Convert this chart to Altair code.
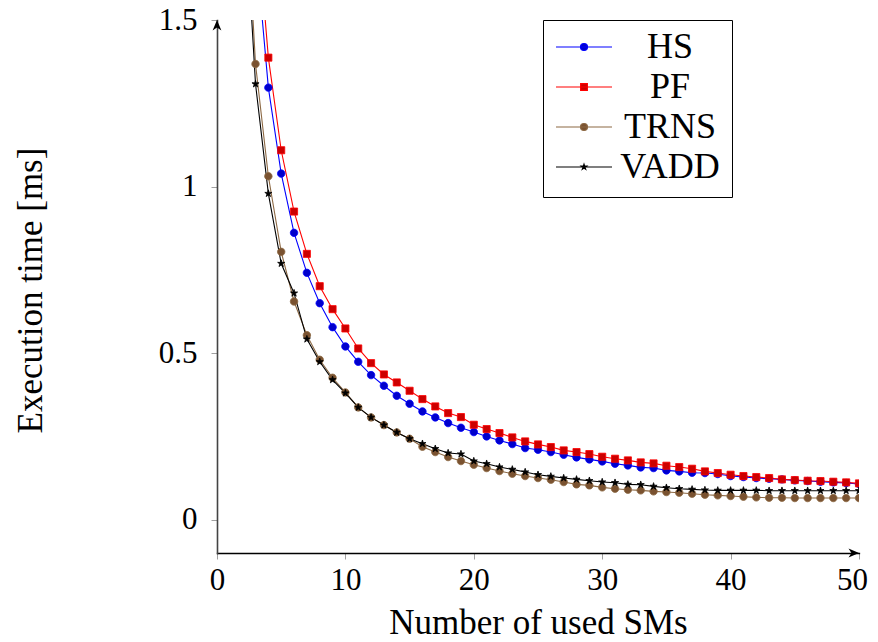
import altair as alt
import pandas as pd

SMS = list(range(1, 51))
HS = [5.2, 2.6, 1.73, 1.297, 1.039, 0.861, 0.741, 0.65, 0.578, 0.52,
      0.474, 0.434, 0.402, 0.372, 0.348, 0.325, 0.307, 0.29, 0.276, 0.263,
      0.25, 0.238, 0.227, 0.215, 0.21, 0.203, 0.195, 0.187, 0.181, 0.175,
      0.168, 0.163, 0.157, 0.155, 0.148, 0.145, 0.141, 0.14, 0.137, 0.131,
      0.128, 0.125, 0.123, 0.121, 0.118, 0.116, 0.114, 0.112, 0.11, 0.107]
PF = [5.55, 2.78, 1.85, 1.387, 1.109, 0.925, 0.798, 0.701, 0.632, 0.574,
      0.514, 0.47, 0.436, 0.412, 0.387, 0.362, 0.34, 0.32, 0.308, 0.285,
      0.272, 0.26, 0.247, 0.235, 0.226, 0.218, 0.208, 0.203, 0.197, 0.189,
      0.183, 0.178, 0.172, 0.169, 0.162, 0.158, 0.153, 0.145, 0.14, 0.135,
      0.131, 0.128, 0.125, 0.121, 0.119, 0.117, 0.116, 0.114, 0.112, 0.109]
TRNS = [4.1, 2.05, 1.368, 1.031, 0.804, 0.655, 0.554, 0.48, 0.426, 0.382,
        0.337, 0.307, 0.284, 0.262, 0.243, 0.219, 0.203, 0.188, 0.176, 0.165,
        0.155, 0.146, 0.138, 0.131, 0.125, 0.12, 0.113, 0.106, 0.103, 0.097,
        0.093, 0.09, 0.088, 0.085, 0.083, 0.081, 0.078, 0.075, 0.073, 0.071,
        0.069, 0.067, 0.066, 0.066, 0.065, 0.065, 0.065, 0.065, 0.065, 0.065]
VADD = [3.93, 1.96, 1.308, 0.979, 0.769, 0.68, 0.542, 0.474, 0.42, 0.38,
        0.337, 0.307, 0.284, 0.262, 0.243, 0.228, 0.213, 0.2, 0.197, 0.176,
        0.168, 0.158, 0.151, 0.143, 0.135, 0.13, 0.125, 0.121, 0.117, 0.113,
        0.111, 0.106, 0.105, 0.1, 0.096, 0.093, 0.091, 0.089, 0.088, 0.088,
        0.088, 0.088, 0.087, 0.087, 0.087, 0.087, 0.087, 0.087, 0.087, 0.087]

SERIES = ["HS", "PF", "TRNS", "VADD"]
LINE_COLORS = ["#0000ff", "#ff0000", "#8c6843", "#000000"]
MARK_FILLS = ["#0000cc", "#cc0000", "#7a5230", "#000000"]
X_TICKS = [0, 10, 20, 30, 40, 50]
Y_TICKS = [0, 0.5, 1, 1.5]
X_DOMAIN = [0, 50]
Y_DOMAIN = [-0.1, 1.5]

FONT = "Liberation Serif"

# marker shapes (unit paths)
CIRCLE = "M-1,0A1,1,0,1,0,1,0A1,1,0,1,0,-1,0Z"
SQUARE = "M-0.95,-0.95L0.95,-0.95L0.95,0.95L-0.95,0.95Z"
STAR = ("M0,-1L0.2245,-0.309L0.951,-0.309L0.363,0.118L0.588,0.809L0,0.382"
        "L-0.588,0.809L-0.363,0.118L-0.951,-0.309L-0.2245,-0.309Z")
MARKERS = [CIRCLE, SQUARE, CIRCLE, STAR]

# legend samples: line segment + small marker
L_CIRCLE = "M-1,0L1,0M-0.125,0A0.125,0.125,0,1,0,0.125,0A0.125,0.125,0,1,0,-0.125,0Z"
L_SQUARE = "M-1,0L1,0M-0.12,-0.12L0.12,-0.12L0.12,0.12L-0.12,0.12Z"
L_STAR = ("M-1,0L1,0M0,-0.1L0.0225,-0.031L0.095,-0.031L0.036,0.012L0.059,0.081"
          "L0,0.038L-0.059,0.081L-0.036,0.012L-0.095,-0.031L-0.0225,-0.031Z")
LEGEND_SHAPES = [L_CIRCLE, L_SQUARE, L_CIRCLE, L_STAR]

rows = []
for name, vals in zip(SERIES, [HS, PF, TRNS, VADD]):
    for s, v in zip(SMS, vals):
        rows.append({"series": name, "sms": s, "time": v})
df = pd.DataFrame(rows)

x_enc = alt.X(
    "sms:Q",
    scale=alt.Scale(domain=X_DOMAIN, nice=False, zero=False),
    axis=alt.Axis(
        values=X_TICKS, grid=False, domainColor="black", domainWidth=1.3,
        tickColor="#a0a0a0", tickSize=6, tickWidth=1,
        labelFont=FONT, labelFontSize=31, labelColor="black", labelPadding=6,
        labelFlush=False,
        labelOffset={"expr": "datum.value == 50 ? -7 : 0"},
        title="Number of used SMs", titleFont=FONT, titleFontSize=35,
        titleFontWeight="normal", titleColor="black",
        titleY=69, titleBaseline="middle",
    ),
)
y_enc = alt.Y(
    "time:Q",
    scale=alt.Scale(domain=Y_DOMAIN, nice=False, zero=False),
    axis=alt.Axis(
        values=Y_TICKS, grid=False, format="~g", domainColor="#444444",
        domainWidth=1.6, tickColor="#a0a0a0", tickSize=6, tickWidth=1,
        labelFont=FONT, labelFontSize=31, labelColor="black", labelPadding=14,
        labelFlush=False,
        title="Execution time [ms]", titleFont=FONT, titleFontSize=35,
        titleFontWeight="normal", titleColor="black",
        titleX=-187, titleY=270, titleAngle=270, titleAlign="center",
        titleBaseline="middle",
    ),
)

base = alt.Chart(df)

lines = base.mark_line(strokeWidth=1.1, clip=True).encode(
    x=x_enc, y=y_enc,
    color=alt.Color("series:N", scale=alt.Scale(domain=SERIES, range=LINE_COLORS), legend=None),
    detail="series:N",
    order="sms:Q",
)

points = base.mark_point(filled=True, opacity=1, size=56, strokeWidth=0.8, clip=True).encode(
    x="sms:Q", y="time:Q",
    fill=alt.Fill("series:N", scale=alt.Scale(domain=SERIES, range=MARK_FILLS), legend=None),
    stroke=alt.Stroke("series:N", scale=alt.Scale(domain=SERIES, range=LINE_COLORS), legend=None),
    shape=alt.Shape("series:N", scale=alt.Scale(domain=SERIES, range=MARKERS), legend=None),
)

leg = alt.Legend(
    orient="none", legendX=326, legendY=0, title=None,
    strokeColor="black", fillColor="white", padding=12, cornerRadius=0,
    symbolSize=3136, symbolStrokeWidth=1.2,
    labelFont=FONT, labelFontSize=36, labelColor="black",
    labelAlign="center", labelOffset=57, clipHeight=30, rowPadding=4,
)

legend_layer = base.transform_filter("false").mark_point(filled=True, opacity=1).encode(
    fill=alt.Fill("series:N", scale=alt.Scale(domain=SERIES, range=MARK_FILLS), legend=leg),
    stroke=alt.Stroke("series:N", scale=alt.Scale(domain=SERIES, range=LINE_COLORS), legend=leg),
    shape=alt.Shape("series:N", scale=alt.Scale(domain=SERIES, range=LEGEND_SHAPES), legend=leg),
)

# axis arrowheads at the ends of the axis domains
ARROW_RIGHT = "M0,0L-1,-0.42L-0.72,0L-1,0.42Z"
ARROW_UP = "M0,0L-0.42,1L0,0.72L0.42,1Z"
arrows_df = pd.DataFrame({
    "sms": [X_DOMAIN[1], X_DOMAIN[0]],
    "time": [Y_DOMAIN[0], Y_DOMAIN[1]],
    "kind": ["x", "y"],
})
arrows = alt.Chart(arrows_df).mark_point(filled=True, opacity=1, size=440, clip=False).encode(
    x="sms:Q", y="time:Q",
    fill=alt.value("black"),
    shape=alt.Shape("kind:N", scale=alt.Scale(domain=["x", "y"], range=[ARROW_RIGHT, ARROW_UP]), legend=None),
)

chart = alt.layer(lines, points, arrows, legend_layer).resolve_scale(
    color="independent", fill="independent", stroke="independent", shape="independent"
).properties(
    width=642, height=533,
    autosize=alt.AutoSizeParams(type="none"),
    padding={"left": 209, "top": 12, "right": 11, "bottom": 97},
).configure_view(stroke=None).configure_axis(domainCap="square")

chart.save("out.html", embed_options={"renderer": "svg", "actions": False})
